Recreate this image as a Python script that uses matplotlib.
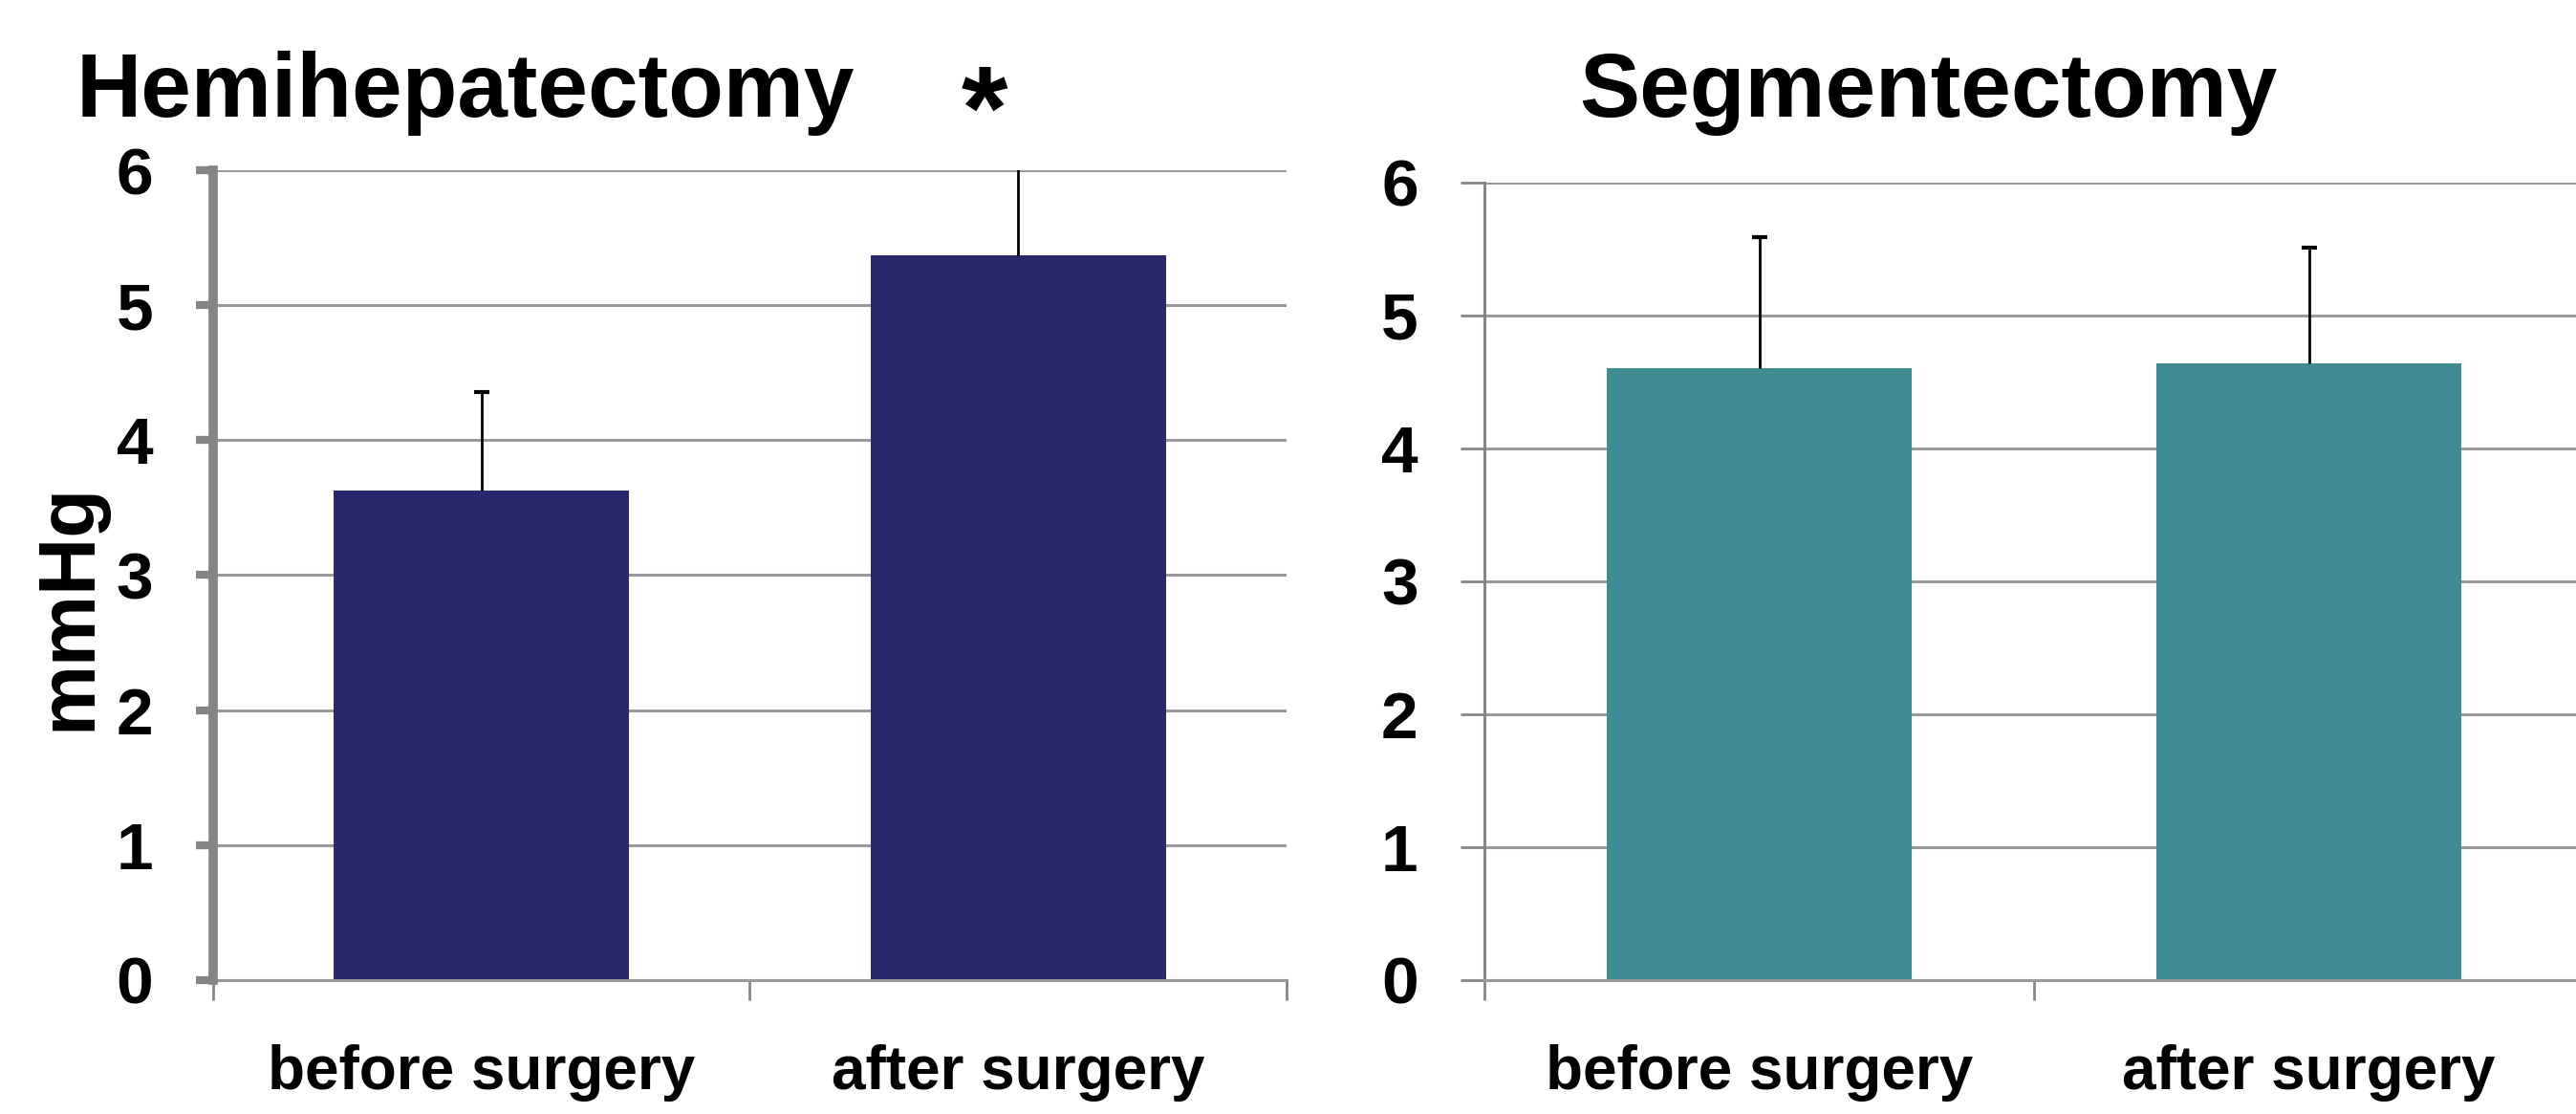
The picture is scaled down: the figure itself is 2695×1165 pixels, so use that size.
import numpy as np
import matplotlib
matplotlib.use("Agg")
from matplotlib import pyplot as plt

# data
categories = ["before surgery", "after surgery"]
hemi_means = [3.63, 5.37]
hemi_err = [0.73, 0.70]
seg_means = [4.60, 4.64]
seg_err = [0.99, 0.87]

plt.rcParams['font.family'] = ['Liberation Sans', 'DejaVu Sans']
plt.rcParams['font.weight'] = 'bold'

navy = '#29286f'
teal = '#3f8b92'
grid_gray = '#9a9a9a'
axis_gray = '#858585'

fig = plt.figure(figsize=(26.95, 11.65), dpi=100)
ax1 = fig.add_axes([0.0827, 0.1202, 0.4167, 0.727])
ax2 = fig.add_axes([0.5763, 0.1202, 0.4267, 0.716])

x = np.arange(len(categories)) + 0.5


def style_panel(ax, spine_w, tick_w, tick_len):
    ax.set_xlim(0, 2)
    ax.set_ylim(0, 6)
    ax.set_yticks(range(7))
    ax.set_xticks(x)
    ax.set_xticklabels(categories)
    ax.set_xticks([0, 1, 2], minor=True)
    ax.yaxis.grid(True, color=grid_gray, linewidth=2.2)
    ax.set_axisbelow(True)
    for s in ['top', 'right']:
        ax.spines[s].set_visible(False)
    ax.spines['bottom'].set_color(grid_gray)
    ax.spines['bottom'].set_linewidth(2.2)
    ax.spines['left'].set_color(axis_gray)
    ax.spines['left'].set_linewidth(spine_w)
    ax.tick_params(axis='y', direction='out', length=tick_len, width=tick_w,
                   color=axis_gray, labelsize=50, pad=32)
    ax.tick_params(axis='x', which='major', length=0, labelsize=46, pad=48)
    ax.tick_params(axis='x', which='minor', direction='out', length=15,
                   width=2, color=axis_gray)
    for lab in ax.get_xticklabels() + ax.get_yticklabels():
        lab.set_fontweight('bold')


def upper_errorbars(ax, means, errs):
    # only the upper half of the error bar, as in the original
    eb = ax.errorbar(x, means, yerr=[[0] * len(errs), errs], fmt='none',
                     ecolor='black', elinewidth=2, capsize=6, capthick=3,
                     zorder=3)
    eb[1][0].set_visible(False)


ax1.bar(x, hemi_means, width=0.55, color=navy, zorder=2)
upper_errorbars(ax1, hemi_means, hemi_err)
style_panel(ax1, 7, 6, 13)
ax1.spines['left'].set_zorder(4)

ax2.bar(x, seg_means, width=0.555, color=teal, zorder=2)
upper_errorbars(ax2, seg_means, seg_err)
style_panel(ax2, 2.2, 2, 18)

fig.text(0.0297, 0.8953, "Hemihepatectomy", fontsize=68, fontweight='bold',
         ha='left', va='baseline')
fig.text(0.3822, 0.866, "*", fontsize=90, fontweight='bold',
         ha='center', va='baseline')
fig.text(0.613, 0.8953, "Segmentectomy", fontsize=68, fontweight='bold',
         ha='left', va='baseline')
fig.text(0.027, 0.455, "mmHg", fontsize=60, fontweight='bold',
         rotation=90, ha='center', va='center')

fig.savefig("out.png", dpi=100)
